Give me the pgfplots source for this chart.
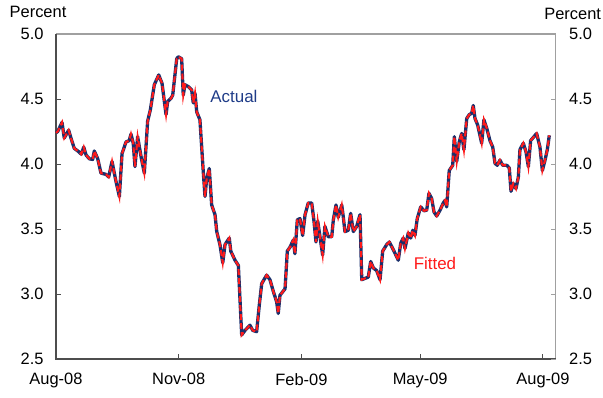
\documentclass[border=0pt]{standalone}
\usepackage{fontspec}
\setmainfont{Liberation Sans}
\usepackage{pgfplots}
\pgfplotsset{compat=1.18}
\usepackage{pgfplotstable}

\definecolor{actualblue}{HTML}{1B2F6B}
\definecolor{labelblue}{HTML}{1F3C88}
\definecolor{fitred}{HTML}{FF1A1A}
\definecolor{axdark}{HTML}{4D4D4D}
\definecolor{axlight}{HTML}{A0A0A0}

% x = days since 1 Aug 2008, y = percent
\pgfplotstableread{
day value
0 4.24
1.3 4.25
4.5 4.32
6.2 4.20
9.5 4.26
11.2 4.20
13.7 4.12
17.0 4.095
19.0 4.075
20.8 4.13
22.5 4.07
25.0 4.04
27.5 4.035
28.7 4.10
31.3 4.04
33.7 3.93
37.5 3.92
39.5 3.90
42.0 4.02
43.7 3.93
45.0 3.865
47.5 3.75
49.5 4.08
52.5 4.17
54.9 4.18
56.2 4.23
57.9 4.16
59.2 3.98
61.2 4.21
63.7 4.06
66.2 3.93
68.7 4.33
70.7 4.415
73.7 4.61
77.0 4.685
79.5 4.62
82.5 4.38
83.7 4.48
86.2 4.505
87.5 4.53
90.5 4.81
91.7 4.825
94.2 4.81
95.4 4.53
96.7 4.61
99.2 4.595
101.7 4.57
102.9 4.47
104.2 4.545
105.5 4.40
107.9 4.34
110.4 3.94
111.7 3.75
113.0 3.89
114.9 3.965
116.7 3.685
119.2 3.61
120.5 3.48
122.9 3.38
125.0 3.24
126.7 3.38
129.9 3.43
131.0 3.33
134.2 3.26
136.7 3.22
139.2 2.685
141.7 2.72
145.4 2.76
147.5 2.72
150.4 2.71
152.4 2.915
154.2 3.08
157.9 3.145
160.4 3.11
162.9 3.02
165.4 2.94
166.6 2.85
167.9 2.99
171.7 3.04
173.4 3.33
175.4 3.36
177.9 3.415
179.1 3.31
180.9 3.57
182.9 3.58
184.9 3.45
186.7 3.61
189.1 3.70
191.7 3.70
193.4 3.56
194.9 3.40
196.2 3.56
197.9 3.44
199.9 3.30
201.6 3.52
204.1 3.44
206.7 3.44
207.9 3.57
209.9 3.685
211.6 3.59
214.2 3.685
215.4 3.59
216.6 3.48
219.1 3.49
220.9 3.62
222.9 3.48
225.4 3.52
227.9 3.61
229.2 3.11
231.6 3.12
234.1 3.13
235.9 3.25
237.9 3.20
240.4 3.18
242.9 3.11
244.9 3.33
247.9 3.38
249.9 3.40
252.9 3.34
256.6 3.26
258.4 3.39
260.3 3.43
261.6 3.35
264.1 3.47
265.9 3.43
267.4 3.49
269.1 3.45
270.8 3.58
273.4 3.67
275.9 3.64
277.9 3.645
279.6 3.775
281.6 3.735
283.4 3.63
285.4 3.60
287.9 3.645
290.3 3.70
291.6 3.72
292.9 3.67
294.8 3.95
297.4 3.99
298.6 4.21
300.4 4.02
302.3 4.17
304.1 4.235
305.8 4.11
307.9 4.35
309.8 4.38
311.6 4.39
312.8 4.45
314.1 4.35
316.1 4.30
319.1 4.16
320.8 4.34
322.9 4.275
325.3 4.18
327.4 4.13
329.1 4.005
330.8 3.99
332.8 4.03
334.9 3.99
337.9 3.99
339.8 3.97
341.1 3.79
342.8 3.85
344.8 3.81
346.6 3.90
347.8 4.11
350.3 4.16
352.3 4.095
354.1 3.98
355.8 4.18
359.1 4.22
360.3 4.235
362.8 4.13
364.6 3.95
366.6 4.03
368.3 4.11
369.8 4.22
}\rates

\pgfplotsset{
  chartbase/.style={
    scale only axis, width=499.7bp, height=325bp,
    xmin=0, xmax=374.6, ymin=2.5, ymax=5.0,
    ytick={2.5,3,3.5,4,4.5,5},
    tick align=inside, major tick length=5bp,
    ticklabel style={font=\fontsize{16.5}{19}\selectfont},
    y tick label style={/pgf/number format/fixed,
      /pgf/number format/fixed zerofill, /pgf/number format/precision=1},
    /pgf/number format/assume math mode=true,
    axis line style={draw=none},
  }
}

\begin{document}
\begin{tikzpicture}
\begin{axis}[chartbase, name=ax, clip=false,
    xtick={0,92,184,273,365},
    xticklabels={Aug-08,Nov-08,Feb-09,May-09,Aug-09},
    xtick pos=bottom, ytick pos=left, yticklabel pos=left,
    tick style={axdark, line width=0.9bp},
    xticklabel style={yshift=-11bp},
    yticklabel style={xshift=-9bp}]
\draw[axlight, line width=1.5bp] (rel axis cs:0,1) -- (rel axis cs:1,1) -- (rel axis cs:1,0);
\draw[axdark, line width=1.8bp] (rel axis cs:0,1) -- (rel axis cs:0,0) -- (rel axis cs:1,0);
\addplot[actualblue, line width=3.3bp, line join=round] table[x=day, y=value] {\rates};
\addplot[fitred, line width=2.1bp, dash pattern=on 6bp off 3bp] table[x=day, y=value] {\rates};
\node[text=labelblue, font=\fontsize{17}{20}\selectfont] at (axis cs:133.4,4.523) {Actual};
\node[text=fitred, font=\fontsize{17}{20}\selectfont] at (axis cs:284.1,3.238) {Fitted};
\end{axis}
\begin{axis}[chartbase, xtick=\empty,
    ytick pos=right, yticklabel pos=right,
    tick style={axlight, line width=0.9bp},
    yticklabel style={xshift=10bp}]
\end{axis}
\node[font=\fontsize{16.5}{19}\selectfont] at ([xshift=-18bp, yshift=22bp]ax.north west) {Percent};
\node[font=\fontsize{16.5}{19}\selectfont] at ([xshift=17bp, yshift=20.5bp]ax.north east) {Percent};
\pgfresetboundingbox
\path[use as bounding box] ([shift={(-56bp,-39bp)}]ax.south west) rectangle ([shift={(47.3bp,34bp)}]ax.north east);
\end{tikzpicture}
\end{document}
